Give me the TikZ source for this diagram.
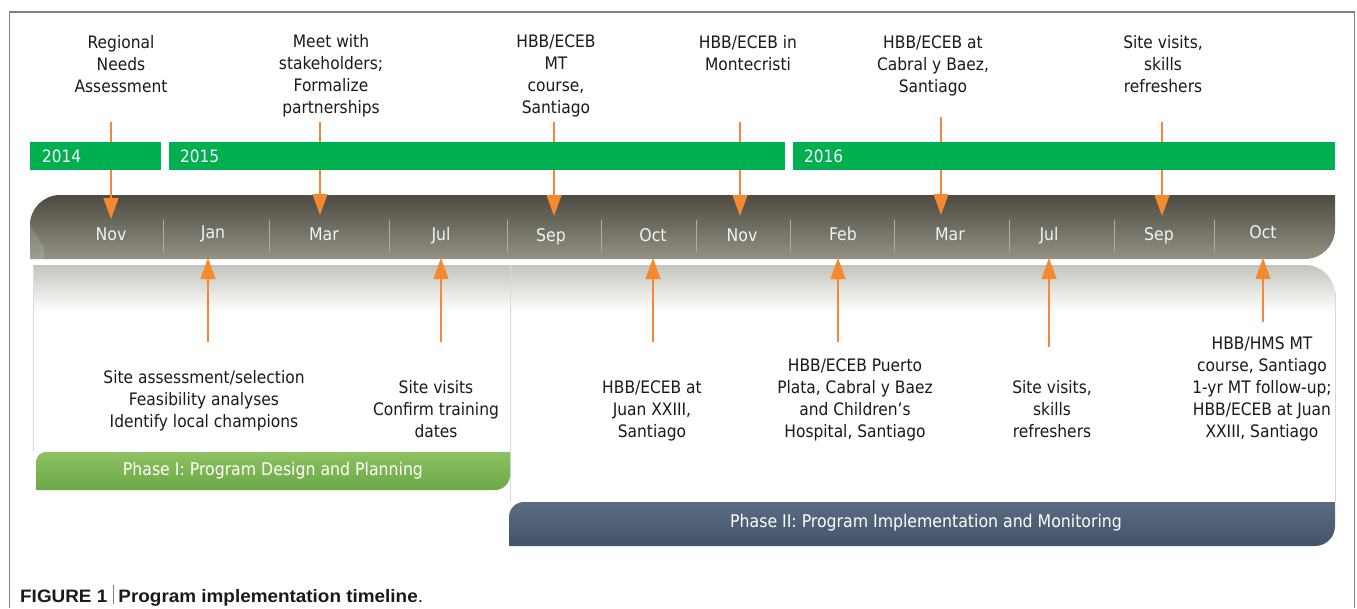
\documentclass[tikz,border=0pt]{standalone}
\usepackage{fontspec}
\setmainfont{DejaVu Sans Condensed}
\newfontfamily\capfont[FakeStretch=1.05]{Liberation Sans}
\usetikzlibrary{arrows.meta}
\definecolor{framec}{HTML}{7F7F7F}
\definecolor{yeargreen}{HTML}{00B050}
\definecolor{bartop}{HTML}{4D4B42}
\definecolor{barbot}{HTML}{939283}
\definecolor{monthc}{HTML}{F2F2F2}
\definecolor{sepc}{HTML}{AEAD9F}
\definecolor{orl}{HTML}{F4873A}
\definecolor{ortip}{HTML}{F5892F}
\definecolor{panelg}{HTML}{C4C4BC}
\definecolor{edgec}{HTML}{D9D9D9}
\definecolor{ptop}{HTML}{8DC262}
\definecolor{pbot}{HTML}{6CA744}
\definecolor{qtop}{HTML}{5B6B81}
\definecolor{qbot}{HTML}{43536A}
\definecolor{txt}{HTML}{1A1A1A}
\tikzset{
  lbl/.style={align=center, font=\fontsize{17.2}{22}\selectfont, text=txt, inner sep=0pt, anchor=base},
  mon/.style={font=\fontsize{17.5}{19}\selectfont, text=monthc, inner sep=0pt, anchor=base},
  yr/.style={font=\fontsize{17}{19}\selectfont, text=white, inner sep=0pt, anchor=base west},
  phasetxt/.style={font=\fontsize{17.5}{19}\selectfont, inner sep=0pt, anchor=base},
  conn/.style={draw=orl, line width=1.3pt},
  tipdown/.style={conn, -{Triangle[width=15pt,length=21pt,fill=ortip,color=ortip]}},
  sepline/.style={draw=sepc, line width=0.8pt},
  edgeline/.style={draw=edgec, line width=0.8pt},
}
\begin{document}
\begin{tikzpicture}[x=1pt,y=1pt]
\useasboundingbox (0,0) rectangle (1357,-608);
\fill[white] (0,0) rectangle (1357,-608);
% frame
\draw[framec, line width=1.2pt] (9.5,-608) -- (9.5,-12) -- (1354.5,-12) -- (1354.5,-608);

% light panel under the bar
\shade[top color=panelg, bottom color=white] (33,-312) -- (33,-265) -- (1305,-265) arc[start angle=90,end angle=0,radius=30] -- (1335,-312) -- cycle;
\draw[edgeline] (33,-265) -- (33,-452);
\draw[edgeline] (510,-265) -- (510,-502);
\draw[edgeline] (1335,-292) -- (1335,-502);

% timeline bar
\shade[top color=bartop, bottom color=barbot] (30,-259) -- (30,-225) arc[start angle=180,end angle=90,radius=30] -- (1335,-195) -- (1335,-229) arc[start angle=0,end angle=-90,radius=30] -- cycle;
\fill[white, opacity=0.12] (30,-259) -- (30,-225) -- (44,-247) -- (44,-259) -- cycle;
\foreach \sx in {163,269,389,507,601,696,790,894,1009,1114,1214}
  \draw[sepline] (\sx,-220) -- (\sx,-252);

% month labels
\node[mon] (m1) at (111,-240) {Nov};
\node[mon] (m2) at (213,-238) {Jan};
\node[mon] (m3) at (324,-240) {Mar};
\node[mon] (m4) at (441,-240) {Jul};
\node[mon] (m5) at (551,-241) {Sep};
\node[mon] (m6) at (653,-241) {Oct};
\node[mon] (m7) at (742,-241) {Nov};
\node[mon] (m8) at (843,-240) {Feb};
\node[mon] (m9) at (950,-240) {Mar};
\node[mon] (m10) at (1049,-240) {Jul};
\node[mon] (m11) at (1159,-240) {Sep};
\node[mon] (m12) at (1263,-238) {Oct};

% top labels (anchor = baseline of the last line)
\node[lbl] (t1) at (121,-92) {Regional\\Needs\\Assessment};
\node[lbl] (t2) at (331,-113) {Meet with\\stakeholders;\\Formalize\\partnerships};
\node[lbl] (t3) at (556,-113) {HBB/ECEB\\MT\\course,\\Santiago};
\node[lbl] (t4) at (748,-70) {HBB/ECEB in\\Montecristi};
\node[lbl] (t5) at (933,-92) {HBB/ECEB at\\Cabral y Baez,\\Santiago};
\node[lbl] (t6) at (1163,-92) {Site visits,\\skills\\refreshers};

% down connectors
\coordinate (ds1) at (111,-122); \coordinate (de1) at (111,-219);
\coordinate (ds2) at (320,-122); \coordinate (de2) at (320,-215);
\coordinate (ds3) at (554,-122); \coordinate (de3) at (554,-216);
\coordinate (ds4) at (740,-122); \coordinate (de4) at (740,-216);
\coordinate (ds5) at (941,-117); \coordinate (de5) at (941,-215);
\coordinate (ds6) at (1162,-122); \coordinate (de6) at (1162,-216);
\foreach \i in {1,...,6} \draw[tipdown] (ds\i) -- (de\i);

% year bars
\fill[yeargreen] (30,-142) rectangle (161,-170);
\fill[yeargreen] (169,-142) rectangle (785,-170);
\fill[yeargreen] (793,-142) rectangle (1335,-170);
\node[yr] (y1) at (42,-162) {2014};
\node[yr] (y2) at (180,-162) {2015};
\node[yr] (y3) at (804,-162) {2016};

% up connectors
\coordinate (us1) at (208,-342); \coordinate (ue1) at (208,-258);
\coordinate (us2) at (441,-342); \coordinate (ue2) at (441,-258);
\coordinate (us3) at (653,-342); \coordinate (ue3) at (653,-258);
\coordinate (us4) at (838,-342); \coordinate (ue4) at (838,-258);
\coordinate (us5) at (1049,-347); \coordinate (ue5) at (1049,-258);
\coordinate (us6) at (1263,-322); \coordinate (ue6) at (1263,-258);
\foreach \i in {1,...,6} \draw[tipdown] (us\i) -- (ue\i);

% bottom labels (anchor = baseline of the last line)
\node[lbl] (b1) at (204,-427) {Site assessment/selection\\Feasibility analyses\\Identify local champions};
\node[lbl] (b2) at (436,-437) {Site visits\\Confirm training\\dates};
\node[lbl] (b3) at (652,-437) {HBB/ECEB at\\Juan XXIII,\\Santiago};
\node[lbl] (b4) at (855,-437) {HBB/ECEB Puerto\\Plata, Cabral y Baez\\and Children’s\\Hospital, Santiago};
\node[lbl] (b5) at (1052,-437) {Site visits,\\skills\\refreshers};
\node[lbl] (b6) at (1262,-437) {HBB/HMS MT\\course, Santiago\\1-yr MT follow-up;\\HBB/ECEB at Juan\\XXIII, Santiago};

% phase I
\shade[top color=ptop, bottom color=pbot] (36,-490) -- (36,-462) arc[start angle=180,end angle=90,radius=10] -- (510,-452) -- (510,-475) arc[start angle=0,end angle=-90,radius=15] -- cycle;
\node[phasetxt, text=white] (p1) at (273,-475) {Phase I: Program Design and Planning};

% phase II
\shade[top color=qtop, bottom color=qbot] (509,-546) -- (509,-517) arc[start angle=180,end angle=90,radius=15] -- (1335,-502) -- (1335,-526) arc[start angle=0,end angle=-90,radius=20] -- cycle;
\node[phasetxt, text=white, anchor=base west] (p2) at (730,-527) {Phase II: Program Implementation and Monitoring};

% caption
\node[anchor=base west, inner sep=0pt, font=\capfont\fontsize{18}{20}\selectfont, text=txt] (cap) at (20,-602)
  {\textbf{FIGURE 1} {\color{framec}\raisebox{-0.12em}{\rule{0.6pt}{1.05em}}} \textbf{Program implementation timeline}.};
\end{tikzpicture}
\end{document}
